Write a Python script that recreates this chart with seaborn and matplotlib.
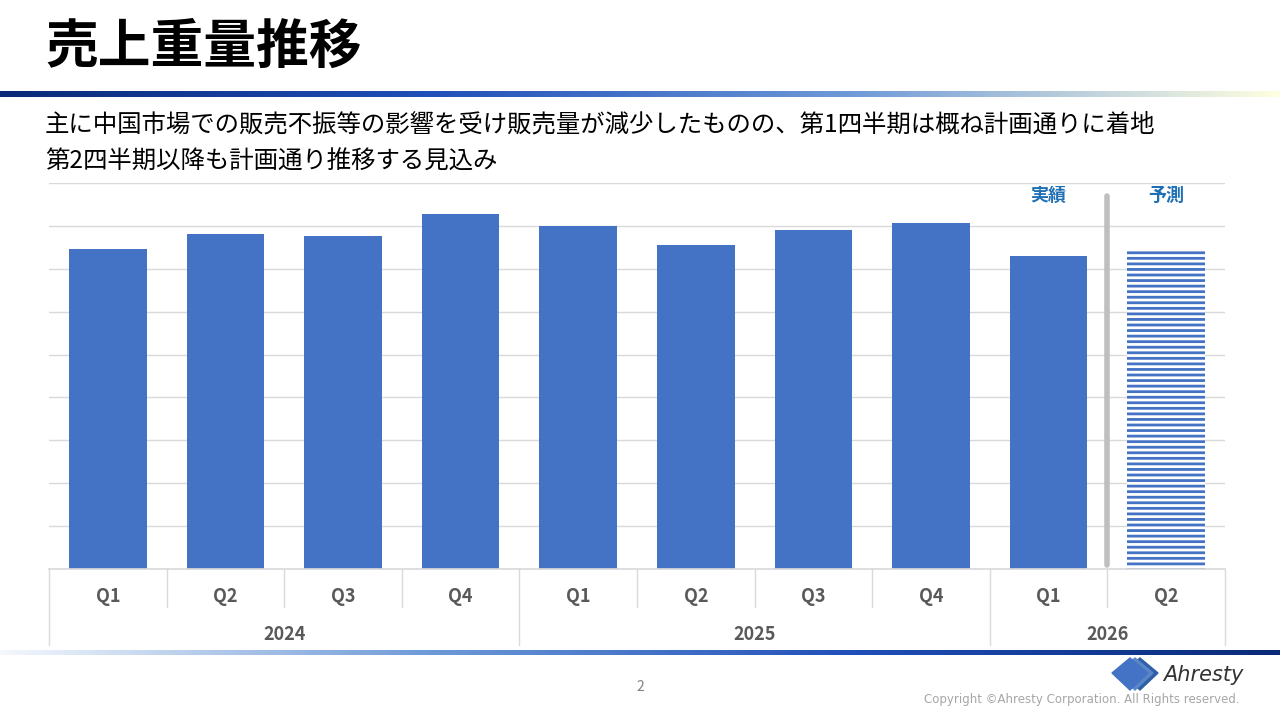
import matplotlib
matplotlib.use("Agg")
import matplotlib.pyplot as plt
import seaborn as sns
import numpy as np
import pandas as pd
from matplotlib.patches import Polygon
from matplotlib.colors import LinearSegmentedColormap

sns.set_theme(style="white")
plt.rcParams['font.family'] = ['Noto Sans CJK JP', 'DejaVu Sans']
plt.rcParams['hatch.linewidth'] = 2.0

years = ["2024", "2025", "2026"]
quarters = ["Q1", "Q2", "Q3", "Q4", "Q1", "Q2", "Q3", "Q4", "Q1", "Q2"]
year_of = ["2024"] * 4 + ["2025"] * 4 + ["2026"] * 2
values = [7.47, 7.81, 7.77, 8.28, 8.0, 7.56, 7.91, 8.07, 7.30, 7.47]
kind = ["実績"] * 9 + ["予測"]

df = pd.DataFrame({"key": [f"{y}{q}" for y, q in zip(year_of, quarters)],
                   "value": values, "kind": kind})

W, H = 1280, 720
fig = plt.figure(figsize=(12.8, 7.2), dpi=100)
BLUE = "#4472C4"

ax = fig.add_axes([49 / W, (720 - 569) / H, 1176 / W, 386 / H])
sns.barplot(data=df, x="key", y="value", color=BLUE, width=0.66, ax=ax,
            saturation=1, edgecolor="none")
p = ax.patches[-1]
p.set_facecolor("white")
p.set_hatch("---")
p.set_edgecolor(BLUE)
p.set_linewidth(0)
ax.set_ylim(0, 9)
ax.set_xlim(-0.5, 9.5)
ax.set_yticks(np.arange(1, 10))
ax.yaxis.grid(True, color="#D9D9D9", lw=1)
ax.set_yticklabels([])
ax.tick_params(left=False, bottom=False)
ax.set_xticklabels([])
ax.set_xlabel("")
ax.set_ylabel("")
for s in ["top", "left", "right"]:
    ax.spines[s].set_visible(False)
ax.spines["bottom"].set_color("#D9D9D9")
ax.axvline(8.5, ymin=(569 - 565) / 386, ymax=(569 - 196) / 386, color="#BFBFBF", lw=4)
ax.text(8.0, 8.7, "実績", color="#1F6FB5", fontsize=13, fontweight="bold", ha="center", va="center")
ax.text(9.0, 8.7, "予測", color="#1F6FB5", fontsize=13, fontweight="bold", ha="center", va="center")

x0, x1 = 49, 1225
cw = (x1 - x0) / 10
def fx(px): return px / W
def fy(py): return 1 - py / H
lc = "#D9D9D9"
for i, q in enumerate(quarters):
    cx = x0 + cw * (i + 0.5)
    fig.text(fx(cx), fy(597), q, ha="center", va="center", fontsize=13, fontweight="bold", color="#595959")
for i in range(11):
    xx = x0 + cw * i
    bottom = 645 if i in (0, 4, 8, 10) else 607
    fig.add_artist(plt.Line2D([fx(xx)] * 2, [fy(569), fy(bottom)], color=lc, lw=1))
for y, a, b in zip(years, [0, 4, 8], [4, 8, 10]):
    cx = x0 + cw * (a + b) / 2
    fig.text(fx(cx), fy(634), y, ha="center", va="center", fontsize=13, fontweight="bold", color="#595959")

fig.text(fx(45), fy(47), "売上重量推移", fontsize=38, fontweight="bold", color="black", va="center")
grad = np.linspace(0, 1, 256)[None, :]
cm1 = LinearSegmentedColormap.from_list("g1", ["#0A2A78", "#1F4FB8", "#6F9AD8", "#FFFFE0"])
gax = fig.add_axes([0, fy(97), 1, 6 / H]); gax.imshow(grad, aspect="auto", cmap=cm1); gax.axis("off")
cm2 = LinearSegmentedColormap.from_list("g2", ["#F4F8FC", "#6F9AD8", "#1F4FB8", "#0A2A78"])
gax2 = fig.add_axes([0, fy(655), 1, 5 / H]); gax2.imshow(grad, aspect="auto", cmap=cm2); gax2.axis("off")

fig.text(fx(45), fy(124), "主に中国市場での販売不振等の影響を受け販売量が減少したものの、第1四半期は概ね計画通りに着地",
         fontsize=17.6, color="black", va="center")
fig.text(fx(45), fy(162), "第2四半期以降も計画通り推移する見込み", fontsize=17.6, color="black", va="center")

fig.text(fx(640), fy(687), "2", fontsize=10, color="#808080", ha="center", va="center")
fig.text(fx(1240), fy(699), "Copyright ©Ahresty Corporation. All Rights reserved.", fontsize=8.5,
         color="#A6A6A6", ha="right", va="center", family=["DejaVu Sans"])
fig.text(fx(1243), fy(675), "Ahresty", fontsize=15, style="italic", color="#333333", ha="right", va="center",
         family=["DejaVu Sans"])
for off, col in [(0, "#2E5FA8"), (5, "#5A86C8"), (10, "#4472C4")]:
    pts = [(1140 - off, 658), (1158 - off, 673), (1140 - off, 690), (1122 - off, 673)]
    fig.add_artist(Polygon([(fx(a), fy(b)) for a, b in pts], closed=True, color=col, transform=fig.transFigure))

fig.savefig("out.png", dpi=100, facecolor="white")
